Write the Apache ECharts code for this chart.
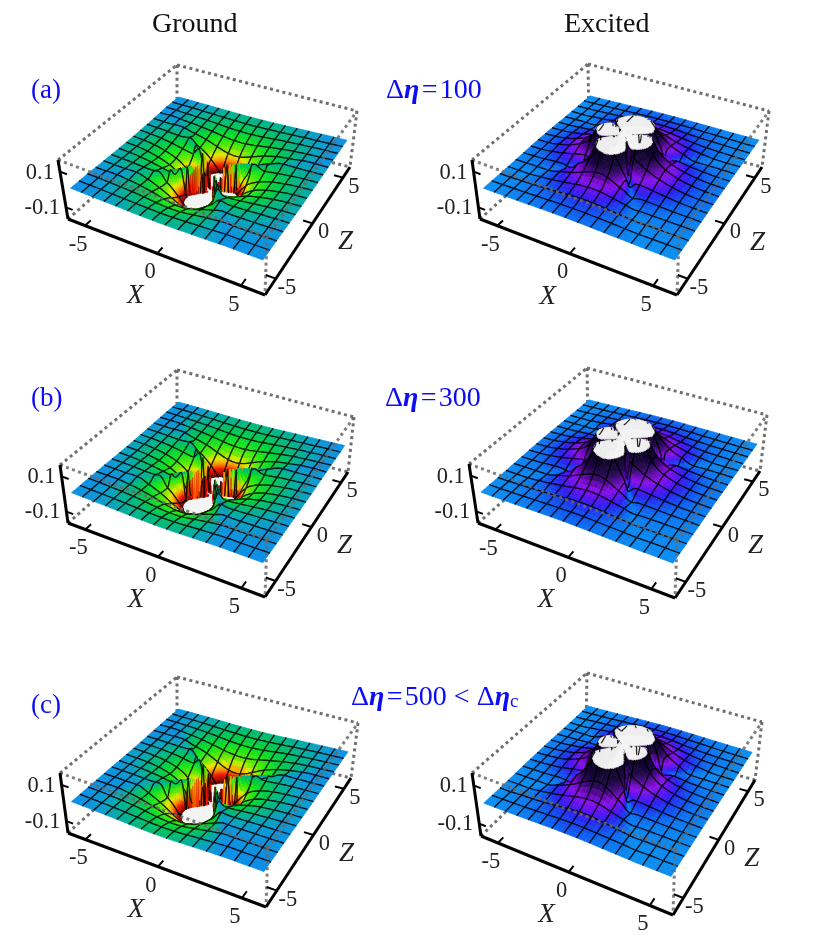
<!DOCTYPE html>
<html>
<head>
<meta charset="utf-8">
<script src="https://cdn.jsdelivr.net/npm/echarts@6/dist/echarts.min.js"></script>
<style>html,body{margin:0;background:#fff}#my_chart{width:818px;height:941px}</style>
</head>
<body>
<div id="my_chart"></div>
<script>
// 每行一条射线 (角度见 rayAngles, 0 = +X, 90 = +Z), 每列一个半径 (rayRadii); 数值 = |势| x 1000
var rayRadii = [0, 0.35, 0.7, 1.05, 1.4, 1.8, 2.2, 2.7, 3.3, 4, 5, 6.5, 8.5];
var rayAngles = [-13, 22, 29, 36, 86, 137, 144, 151, 181, 211, 218, 225, 267, 298, 305, 312];
var groundA = [
[170,240,290,285,230,155,100,66,42,26,13,5,0],
[170,205,240,215,150,95,62,42,28,18,9,4,0],
[170,70,12,4,2,3,6,10,11,8,4,1,0],
[170,215,275,270,190,115,72,48,32,20,11,4,0],
[170,260,340,390,340,240,150,95,58,34,17,7,2],
[170,215,275,270,190,115,76,52,36,22,12,5,1],
[170,80,25,16,14,14,14,14,12,9,4,1,0],
[170,205,240,215,150,95,64,44,30,19,10,4,0],
[170,240,285,280,225,150,98,66,44,27,13,5,0],
[170,205,240,210,145,92,60,40,27,17,9,4,0],
[170,70,14,4,3,6,11,14,14,10,4,1,0],
[170,215,275,270,195,125,90,66,44,24,11,4,0],
[170,260,340,390,345,255,175,125,80,45,18,7,2],
[170,215,275,270,195,125,88,64,40,20,9,4,1],
[170,95,30,10,5,4,4,5,6,5,3,1,0],
[170,205,240,215,150,90,54,34,22,14,7,3,0]
];
var groundB = [
[165,225,275,265,215,140,88,56,34,20,9,3,0],
[165,195,235,200,135,85,52,34,22,13,6,2,0],
[165,66,10,3,1,2,4,7,8,6,3,1,0],
[165,215,280,285,205,125,80,54,34,21,10,4,0],
[165,265,350,410,360,260,165,105,62,37,19,8,2],
[165,215,280,285,205,125,83,57,36,22,11,4,1],
[165,75,20,12,10,10,10,11,10,7,3,1,0],
[165,195,235,200,135,85,54,36,23,14,7,2,0],
[165,225,270,260,210,135,85,56,35,20,9,3,0],
[165,195,235,195,130,82,50,32,21,13,6,2,0],
[165,66,11,3,1,4,8,10,10,7,3,1,0],
[165,215,280,285,210,135,98,72,48,26,11,4,0],
[165,265,350,410,375,280,190,135,88,50,21,8,2],
[165,215,280,285,210,132,95,68,44,22,9,3,1],
[165,90,25,7,3,2,2,3,4,3,2,1,0],
[165,195,235,200,135,80,48,29,18,10,5,2,0]
];
var groundC = [
[165,205,250,235,180,118,72,44,25,14,6,2,0],
[165,185,215,180,120,72,42,26,15,8,3,1,0],
[165,62,8,2,1,1,2,4,5,4,2,1,0],
[165,215,285,300,225,140,92,62,38,22,10,4,0],
[165,270,360,430,390,290,190,125,76,45,23,9,3],
[165,215,285,300,225,140,94,64,40,24,11,4,1],
[165,70,16,8,6,6,6,7,7,5,2,1,0],
[165,185,215,180,120,72,44,28,17,9,4,1,0],
[165,205,245,230,175,114,70,44,25,14,6,2,0],
[165,185,215,175,115,68,40,24,14,8,3,1,0],
[165,62,9,2,1,2,4,6,7,5,2,1,0],
[165,215,285,300,230,150,108,80,52,28,11,4,0],
[165,270,360,430,400,310,210,150,98,56,25,9,3],
[165,215,285,300,230,146,104,74,48,25,10,3,1],
[165,85,20,5,2,1,1,2,3,2,1,0,0],
[165,185,215,180,120,68,38,22,13,7,3,1,0]
];
var excitedA = [
[170,250,310,300,240,165,105,68,42,24,10,4,0],
[170,220,260,230,178,100,62,40,25,14,6,2,0],
[170,150,125,70,22,10,10,9,8,5,2,1,0],
[170,225,290,285,218,120,76,50,32,18,8,3,0],
[170,270,360,410,350,250,150,90,52,30,13,5,1],
[170,225,290,285,218,120,78,52,34,20,9,3,0],
[170,150,125,72,25,12,12,11,9,6,2,1,0],
[170,220,260,230,178,100,64,42,27,15,6,2,0],
[170,250,310,300,240,165,105,70,44,25,10,4,0],
[170,220,260,230,178,100,62,40,25,14,6,2,0],
[170,150,125,70,22,10,10,9,8,5,2,1,0],
[170,225,290,285,218,120,76,50,32,18,8,3,0],
[170,270,360,410,350,255,160,95,54,30,13,5,1],
[170,225,290,285,218,116,70,45,28,16,7,3,0],
[170,145,105,40,8,2,4,6,6,4,2,1,0],
[170,220,260,230,178,95,58,36,23,13,5,2,0]
];
var excitedB = [
[168,240,300,285,225,150,95,60,38,21,9,3,0],
[168,215,250,215,165,92,56,36,22,12,5,2,0],
[168,148,118,62,18,8,8,8,6,4,2,1,0],
[168,225,295,295,225,130,84,54,34,19,8,3,0],
[168,270,370,425,365,265,165,100,58,32,14,5,1],
[168,225,295,295,225,130,86,56,36,21,9,3,0],
[168,148,118,64,20,10,10,10,8,5,2,1,0],
[168,215,250,215,165,92,58,38,24,13,5,2,0],
[168,240,300,285,225,150,95,62,40,22,9,3,0],
[168,215,250,215,165,92,56,36,22,12,5,2,0],
[168,148,118,62,18,8,8,8,6,4,2,1,0],
[168,225,295,295,225,130,84,54,34,19,8,3,0],
[168,270,370,425,365,270,175,105,60,32,14,5,1],
[168,225,295,295,225,126,78,48,30,17,7,3,0],
[168,142,98,34,6,2,3,5,5,3,2,1,0],
[168,215,250,215,165,88,52,33,20,11,5,2,0]
];
var excitedC = [
[166,225,280,265,200,130,80,50,30,16,7,2,0],
[166,205,235,195,150,78,46,28,16,8,3,1,0],
[166,146,110,52,14,6,6,6,5,3,1,0,0],
[166,225,300,310,240,145,96,62,38,20,8,3,0],
[166,275,380,445,385,285,185,115,68,38,17,6,1],
[166,225,300,310,240,145,98,64,40,22,9,3,0],
[166,146,110,54,16,8,8,8,6,4,2,0,0],
[166,205,235,195,150,78,48,30,18,9,4,1,0],
[166,225,280,265,200,130,80,52,32,17,7,2,0],
[166,205,235,195,150,78,46,28,16,8,3,1,0],
[166,146,110,52,14,6,6,6,5,3,1,0,0],
[166,225,300,310,240,145,96,62,38,20,8,3,0],
[166,275,380,445,385,290,195,122,70,40,17,6,1],
[166,225,300,310,240,140,90,56,34,18,8,3,0],
[166,140,90,28,5,2,2,3,4,3,1,0,0],
[166,205,235,195,150,74,42,25,15,8,3,1,0]
];

var xzTicks = [-5, 0, 5];
var heightTicks = [0.1, -0.1];
var columnTitles = ['Ground', 'Excited'];
var rowLabels = ['(a)', '(b)', '(c)'];

// 色带: [深度, 颜色]
var groundStops = [[0,'#0a8ce8'],[4,'#0a9ccc'],[8,'#00aca0'],[14,'#00b976'],[25,'#00cc44'],[45,'#1ee812'],
    [70,'#74e800'],[90,'#e8e800'],[110,'#f89000'],[130,'#f01000'],[150,'#a00800'],[165,'#300400']];
var excitedStops = [[0,'#0a8ef0'],[5,'#0a78f0'],[12,'#1050f0'],[22,'#2a20f0'],[35,'#6010f0'],[50,'#8a10e8'],
    [65,'#6a08b8'],[85,'#3a0870'],[110,'#1a0640'],[165,'#0c0420']];
var CLIP = 165, EDGE = 6.3, CAP = '#f3f3f3', MESH = 15, CELL = 0.8;

// 六个面板的盒子八个角 [L, F, R, B], 下面 / 上面
var panels = [
    {rays: groundA, stops: groundStops, sign: -1, low: [[68,219],[265,295],[350,167],[177,123]], high: [[58,160],[267,237],[357,111],[177,65]]},
    {rays: excitedA, stops: excitedStops, sign: 1, low: [[480,219],[677,295],[762,167],[589,122]], high: [[472,160],[679,237],[769,111],[588,64]]},
    {rays: groundB, stops: groundStops, sign: -1, low: [[68,523],[265,597],[348,472],[177,428]], high: [[60,465],[267,540],[354,417],[177,370]]},
    {rays: excitedB, stops: excitedStops, sign: 1, low: [[478,523],[675,598],[760,471],[588,426]], high: [[469,464],[677,540],[767,415],[587,368]]},
    {rays: groundC, stops: groundStops, sign: -1, low: [[68,833],[266,907],[351,778],[177,735]], high: [[60,773],[268,848],[358,723],[177,677]]},
    {rays: excitedC, stops: excitedStops, sign: 1, low: [[481,836],[673,915],[755,780],[586,733]], high: [[472,773],[675,850],[762,722],[587,673]]}
];

function homography(q) {
    var dx1 = q[1][0] - q[2][0], dx2 = q[3][0] - q[2][0], sx = q[0][0] - q[1][0] + q[2][0] - q[3][0];
    var dy1 = q[1][1] - q[2][1], dy2 = q[3][1] - q[2][1], sy = q[0][1] - q[1][1] + q[2][1] - q[3][1];
    var den = dx1 * dy2 - dx2 * dy1;
    var g = (sx * dy2 - dx2 * sy) / den, h = (dx1 * sy - sx * dy1) / den;
    return function (u, v) {
        var w = g * u + h * v + 1;
        return [
            ((q[1][0] - q[0][0] + g * q[1][0]) * u + (q[3][0] - q[0][0] + h * q[3][0]) * v + q[0][0]) / w,
            ((q[1][1] - q[0][1] + g * q[1][1]) * u + (q[3][1] - q[0][1] + h * q[3][1]) * v + q[0][1]) / w
        ];
    };
}
panels.forEach(function (p) {
    p.lowMap = homography(p.low);
    p.highMap = homography(p.high);
});
// t: 0 = 盒底, 1 = 盒顶
function project(p, x, z, t) {
    var u = (x + EDGE) / (2 * EDGE), v = (z + EDGE) / (2 * EDGE);
    var a = p.lowMap(u, v), b = p.highMap(u, v);
    return [a[0] + (b[0] - a[0]) * t, a[1] + (b[1] - a[1]) * t];
}
function heightToT(p, d) {
    var c = Math.max(-CLIP, Math.min(CLIP, d * p.sign));
    return (c + CLIP) / (2 * CLIP);
}
function cubic(a, b, c, d, t) {
    return b + 0.5 * t * (c - a + t * (2 * a - 5 * b + 4 * c - d + t * (3 * (b - c) + d - a)));
}
function angleAt(k) {
    var n = rayAngles.length;
    return rayAngles[(k + n) % n] + (k < 0 ? -360 : k >= n ? 360 : 0);
}
function harmonic(a, b) {
    return a * b <= 0 ? 0 : 2 * a * b / (a + b);
}
// 在射线表上取值: 半径方向三次, 角度方向保形
function sample(rays, x, z) {
    var r = Math.sqrt(x * x + z * z);
    var k = 0, last = rayRadii.length - 1;
    while (k < last - 1 && rayRadii[k + 1] < r) k++;
    var tr = Math.min(1, (r - rayRadii[k]) / (rayRadii[k + 1] - rayRadii[k]));
    var ang = Math.atan2(z, x) * 180 / Math.PI;
    var n = rayAngles.length;
    if (ang < rayAngles[0]) ang += 360;
    var a0 = n - 1;
    for (var s = 0; s < n - 1; s++) {
        if (ang < rayAngles[s + 1]) { a0 = s; break; }
    }
    var vals = [];
    for (var m = -1; m <= 2; m++) {
        var ray = rays[(a0 + m + n) % n];
        vals.push(cubic(ray[Math.max(0, k - 1)], ray[k], ray[k + 1], ray[Math.min(last, k + 2)], tr));
    }
    var h = angleAt(a0 + 1) - angleAt(a0);
    var d0 = (vals[1] - vals[0]) / (angleAt(a0) - angleAt(a0 - 1));
    var d1 = (vals[2] - vals[1]) / h;
    var d2 = (vals[3] - vals[2]) / (angleAt(a0 + 2) - angleAt(a0 + 1));
    var m0 = harmonic(d0, d1), m1 = harmonic(d1, d2);
    var t = (ang - angleAt(a0)) / h, t2 = t * t, t3 = t2 * t;
    return (2 * t3 - 3 * t2 + 1) * vals[1] + (t3 - 2 * t2 + t) * h * m0 + (-2 * t3 + 3 * t2) * vals[2] + (t3 - t2) * h * m1;
}
var colorCache = {};
function colorOf(stops, d) {
    var key = (stops === groundStops ? 'g' : 'e') + Math.round(d * 2);
    if (colorCache[key]) return colorCache[key];
    var s = 1;
    while (s < stops.length - 1 && stops[s][0] < d) s++;
    var t = Math.max(0, Math.min(1, (d - stops[s - 1][0]) / (stops[s][0] - stops[s - 1][0])));
    var a = echarts.color.parse(stops[s - 1][1]), b = echarts.color.parse(stops[s][1]);
    var c = 'rgb(' + Math.round(a[0] + (b[0] - a[0]) * t) + ',' + Math.round(a[1] + (b[1] - a[1]) * t) + ',' + Math.round(a[2] + (b[2] - a[2]) * t) + ')';
    colorCache[key] = c;
    return c;
}

function renderCell(p, params, api) {
    var i = api.value(0), j = api.value(1);
    var central = Math.abs(i + 0.5 - MESH / 2) < 3.5 && Math.abs(j + 0.5 - MESH / 2) < 3.5;
    var n = central ? 10 : 3;
    function at(fi, fj) {
        var x = -6 + fi * CELL, z = -6 + fj * CELL;
        var d = sample(p.rays, x, z);
        return {x: x, z: z, d: d, c: api.coord(project(p, x, z, heightToT(p, d)))};
    }
    // 截断面上的交点
    function cross(s, e) {
        var f = (CLIP - s.d) / (e.d - s.d);
        var x = s.x + (e.x - s.x) * f, z = s.z + (e.z - s.z) * f;
        return {x: x, z: z, d: CLIP, c: api.coord(project(p, x, z, heightToT(p, CLIP)))};
    }
    var kids = [];
    function poly(list, fill) {
        kids.push({
            type: 'polygon',
            shape: {points: list.map(function (v) { return v.c; })},
            style: {fill: fill, stroke: fill, lineWidth: 0.6}
        });
    }
    function shaded(list) {
        var sum = 0;
        list.forEach(function (v) { sum += v.d; });
        poly(list, colorOf(p.stops, Math.max(0, sum / list.length)));
    }
    var pts = [], a, b;
    for (a = 0; a <= n; a++) {
        pts.push([]);
        for (b = 0; b <= n; b++) pts[a].push(at(i + a / n, j + b / n));
    }
    // 从后往前: X 增大, Z 减小
    for (a = 0; a < n; a++) {
        for (b = n - 1; b >= 0; b--) {
            var q = [pts[a][b], pts[a + 1][b], pts[a + 1][b + 1], pts[a][b + 1]];
            var over = 0;
            q.forEach(function (v) { if (v.d >= CLIP) over++; });
            if (over === 0) {
                shaded(q);
            } else if (over === 4) {
                poly(q, CAP);
            } else {
                var under = [], above = [];
                for (var k = 0; k < 4; k++) {
                    var s = q[k], e = q[(k + 1) % 4];
                    if (s.d >= CLIP) above.push(s); else under.push(s);
                    if ((s.d >= CLIP) !== (e.d >= CLIP)) {
                        var c = cross(s, e);
                        above.push(c);
                        under.push(c);
                    }
                }
                shaded(under);
                poly(above, CAP);
            }
        }
    }
    // 网格线, 外边框不画
    function pushLine(run) {
        kids.push({
            type: 'polyline',
            shape: {points: run},
            style: {fill: null, stroke: 'rgba(0,0,0,0.85)', lineWidth: 1.25}
        });
    }
    function edge(list) {
        var run = [];
        for (var k = 0; k < list.length; k++) {
            var cur = list[k], prev = list[k - 1];
            if (prev && (prev.d >= CLIP) !== (cur.d >= CLIP)) {
                run.push(cross(prev, cur).c);
                if (cur.d >= CLIP) {
                    if (run.length > 1) pushLine(run);
                    run = [];
                }
            }
            if (cur.d < CLIP) run.push(cur.c);
        }
        if (run.length > 1) pushLine(run);
    }
    var e1 = [], e2 = [], e3 = [], e4 = [];
    for (a = 0; a <= n; a++) {
        e1.push(pts[a][0]);
        e2.push(pts[a][n]);
        e3.push(pts[0][a]);
        e4.push(pts[n][a]);
    }
    if (j > 0) edge(e1);
    if (j < MESH - 1) edge(e2);
    if (i > 0) edge(e3);
    if (i < MESH - 1) edge(e4);
    return {type: 'group', children: kids};
}

function seg(api, a, b, style) {
    var s = api.coord(a), e = api.coord(b);
    return {type: 'line', shape: {x1: s[0], y1: s[1], x2: e[0], y2: e[1]}, style: style};
}
var dotted = {stroke: '#707070', lineWidth: 3, lineDash: [3, 3.4], fill: null};
var dottedFront = {stroke: 'rgba(105,105,105,0.85)', lineWidth: 3, lineDash: [3, 3.4], fill: null};
var solid = {stroke: '#000', lineWidth: 3, fill: null};
var tick = {stroke: '#000', lineWidth: 2, fill: null};

function renderBack(p, params, api) {
    return {type: 'group', children: [
        seg(api, p.high[0], p.high[3], dotted),
        seg(api, p.high[3], p.high[2], dotted),
        seg(api, p.high[3], p.low[3], dotted),
        seg(api, p.high[2], p.low[2], dotted),
        seg(api, p.low[0], p.low[3], dotted),
        seg(api, p.low[3], p.low[2], dotted)
    ]};
}
function label(api, pt, dx, dy, text, font, align) {
    var c = api.coord(pt);
    return {type: 'text', x: c[0] + dx, y: c[1] + dy, style: {text: text, font: font, fill: '#222', align: align || 'center', verticalAlign: 'middle'}};
}
var tickFont = '22.5px "Liberation Serif"', axisFont = 'italic 27px "Liberation Serif"';
function renderFront(p, params, api) {
    var kids = [
        seg(api, p.high[0], p.high[1], dottedFront),
        seg(api, p.high[1], p.high[2], dottedFront),
        seg(api, p.high[1], p.low[1], dottedFront),
        seg(api, p.low[0], p.low[1], solid),
        seg(api, p.low[1], p.low[2], solid),
        seg(api, p.low[0], p.high[0], solid)
    ];
    xzTicks.forEach(function (v) {
        var s = project(p, v, -EDGE, 0), e = project(p, v, -EDGE + 0.55, 0);
        kids.push(seg(api, s, e, tick));
        kids.push(label(api, s, -7, 19, String(v), tickFont));
        s = project(p, EDGE, v, 0);
        e = project(p, EDGE - 0.55, v, 0);
        kids.push(seg(api, s, e, tick));
        kids.push(label(api, s, 11, 9, String(v), tickFont));
    });
    heightTicks.forEach(function (v) {
        var t = (v * 1000 + CLIP) / (2 * CLIP);
        var s = project(p, -EDGE, -EDGE, t), e = project(p, -EDGE + 0.5, -EDGE, t);
        kids.push(seg(api, s, e, tick));
        kids.push(label(api, s, -6, 1, String(v), tickFont, 'right'));
    });
    kids.push(label(api, project(p, 0, -EDGE, 0), -22, 43, 'X', axisFont));
    kids.push(label(api, project(p, EDGE, 0, 0), 33, 19, 'Z', axisFont));
    return {type: 'group', children: kids};
}

var cells = [];
for (var ci = 0; ci < MESH; ci++) {
    for (var cj = MESH - 1; cj >= 0; cj--) cells.push([ci, cj]);
}
var series = [];
panels.forEach(function (p) {
    series.push({type: 'custom', z: 1, silent: true, clip: false, animation: false, data: [[0, 0]], renderItem: renderBack.bind(null, p)});
    series.push({type: 'custom', z: 2, silent: true, clip: false, animation: false, progressive: 0, data: cells, renderItem: renderCell.bind(null, p)});
    series.push({type: 'custom', z: 3, silent: true, clip: false, animation: false, data: [[0, 0]], renderItem: renderFront.bind(null, p)});
});

var blue = '#0c0cf5';
var mathRich = {
    d: {fontFamily: 'Liberation Serif', fontSize: 28, fontWeight: 'normal', color: blue},
    e: {fontFamily: 'Liberation Serif', fontSize: 28, color: blue, fontStyle: 'italic', fontWeight: 'bold'},
    n: {fontFamily: 'Liberation Serif', fontSize: 28, fontWeight: 'normal', color: blue},
    s: {fontFamily: 'Liberation Serif', fontSize: 19, fontWeight: 'normal', color: blue, padding: [8, 0, 0, 0]}
};
var titleFont = {fontFamily: 'Liberation Serif', fontSize: 28, fontWeight: 'normal', color: '#111'};
var titles = [
    {text: columnTitles[0], left: 152, top: 11, padding: 0, textStyle: titleFont},
    {text: columnTitles[1], left: 564, top: 11, padding: 0, textStyle: titleFont},
    {text: '{d|Δ}{e|η}{n|\u200a=\u200a100}', left: 386, top: 77, padding: 0, textStyle: {rich: mathRich}},
    {text: '{d|Δ}{e|η}{n|\u200a=\u200a300}', left: 385, top: 385, padding: 0, textStyle: {rich: mathRich}},
    {text: '{d|Δ}{e|η}{n|\u200a=\u200a500 < Δ}{e|η}{s|c}', left: 351, top: 684, padding: 0, textStyle: {rich: mathRich}}
];
var rowTops = [77, 385, 692];
rowLabels.forEach(function (t, k) {
    titles.push({text: t, left: 31, top: rowTops[k], padding: 0, textStyle: {fontFamily: 'Liberation Serif', fontSize: 27, fontWeight: 'normal', color: blue}});
});

var myChart = echarts.init(document.getElementById('my_chart'), null, {renderer: 'canvas'});
myChart.setOption({
    animation: false,
    backgroundColor: '#fff',
    title: titles,
    tooltip: {show: false},
    grid: {left: 0, right: 0, top: 0, bottom: 0},
    xAxis: {type: 'value', min: 0, max: 818, show: false},
    yAxis: {type: 'value', min: 0, max: 941, inverse: true, show: false},
    series: series
});
</script>
</body>
</html>
